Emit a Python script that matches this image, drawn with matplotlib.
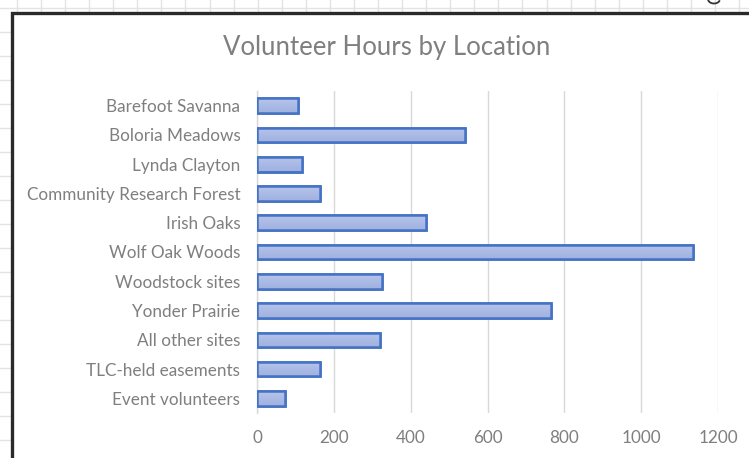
import numpy as np
import matplotlib
matplotlib.use("Agg")
import matplotlib.pyplot as plt
from matplotlib.lines import Line2D
from matplotlib.patches import Rectangle
from matplotlib.colors import LinearSegmentedColormap

locations = ["Barefoot Savanna", "Boloria Meadows", "Lynda Clayton",
             "Community Research Forest", "Irish Oaks", "Wolf Oak Woods",
             "Woodstock sites", "Yonder Prairie", "All other sites",
             "TLC-held easements", "Event volunteers"]
hours = [108, 541, 118, 165, 440, 1136, 325, 764, 320, 165, 74]
x_ticks = [0, 200, 400, 600, 800, 1000, 1200]
title = "Volunteer Hours by Location"

W, H = 749, 458
fig = plt.figure(figsize=(W / 100, H / 100), dpi=100)
fig.patch.set_facecolor("white")

def fx(px):
    return px / W

def fy(py):
    return 1 - py / H

# spreadsheet grid in the background
grid_col = "#E3E3E3"
x = 17.0
while x < W:
    fig.add_artist(Line2D([fx(x), fx(x)], [0, 1], color=grid_col, lw=1, zorder=0))
    x += 24.07
y = 8.0
while y < H:
    fig.add_artist(Line2D([0, 1], [fy(y), fy(y)], color=grid_col, lw=1, zorder=0))
    y += 24.0
# bottom stroke of a clipped cell glyph at the top right
t = np.linspace(0.15 * np.pi, 0.95 * np.pi, 30)
gx = 714 + 6 * np.cos(t)
gy = -1 + 4.5 * np.sin(t)
fig.add_artist(Line2D(fx(gx), fy(gy), color="#333333", lw=1.3, zorder=1))

# chart area
fig.add_artist(Rectangle((fx(11.5), fy(470)), fx(800), fy(13) - fy(470),
                         facecolor="white", edgecolor="#2A2A2A", lw=2.4, zorder=2))

ax = fig.add_axes([fx(257), fy(413), fx(718) - fx(257), fy(91) - fy(413)], zorder=3)
ax.set_facecolor("none")

pos = np.arange(len(locations))
bars = ax.barh(pos, hours, height=0.5, color="#AAB9E3", edgecolor="#4472C4",
               linewidth=1.8, zorder=3)

# subtle vertical gradient inside bars
grad = np.linspace(0, 1, 64).reshape(-1, 1)
cmap = LinearSegmentedColormap.from_list("g", ["#B7C5EB", "#A0B1E0"])
for b in bars:
    x0, y0 = b.get_x(), b.get_y()
    w, h = b.get_width(), b.get_height()
    im = ax.imshow(grad, extent=(x0, x0 + w, y0 + h, y0), aspect="auto",
                   cmap=cmap, zorder=3.5, interpolation="bilinear")
    im.set_clip_path(b)
    ax.add_patch(Rectangle((x0, y0), w, h, facecolor="none", edgecolor="#4472C4",
                           lw=1.8, zorder=4))

ax.set_xlim(0, 1200)
ax.set_ylim(len(locations) - 0.5, -0.5)
ax.set_xticks(x_ticks)
ax.set_xticklabels([str(v) for v in x_ticks])
ax.set_yticks(pos)
ax.set_yticklabels(locations)
ax.grid(axis="x", color="#D9D9D9", lw=1, zorder=0)
ax.set_axisbelow(True)
for s in ["top", "right", "bottom"]:
    ax.spines[s].set_visible(False)
ax.spines["left"].set_color("#D9D9D9")
ax.spines["left"].set_linewidth(1)
ax.tick_params(axis="both", length=0, colors="#7F7F7F")
ax.tick_params(axis="y", pad=12, labelsize=12.3)
ax.tick_params(axis="x", pad=12, labelsize=12.3)
for lab in ax.get_xticklabels() + ax.get_yticklabels():
    lab.set_family("Lato")
    lab.set_color("#7F7F7F")

fig.text(fx(387), fy(48), title, fontsize=18.5, color="#7F7F7F", ha="center",
         va="center", family="Lato", zorder=4)

fig.savefig("out.png", dpi=100)
